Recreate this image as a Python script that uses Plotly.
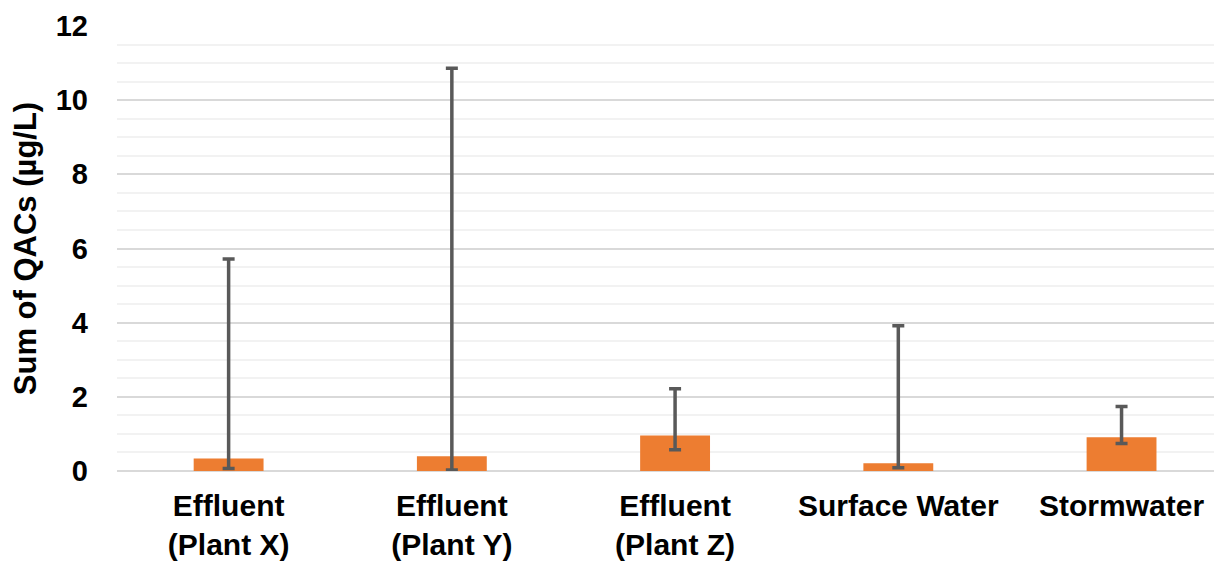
import plotly.graph_objects as go

categories = ["Effluent<br>(Plant X)", "Effluent<br>(Plant Y)", "Effluent<br>(Plant Z)", "Surface Water", "Stormwater"]
values = [0.34, 0.40, 0.96, 0.21, 0.91]
upper = [5.72, 10.86, 2.22, 3.92, 1.74]
lower = [0.07, 0.03, 0.57, 0.09, 0.74]

err_plus = [u - v for u, v in zip(upper, values)]
err_minus = [v - l for v, l in zip(values, lower)]

FONT = "Liberation Sans, Arial, sans-serif"

fig = go.Figure()
fig.add_trace(go.Bar(
    x=categories, y=values,
    marker=dict(color="#ED7D31", line=dict(width=0)),
    width=0.313,
    error_y=dict(type="data", symmetric=False, array=err_plus, arrayminus=err_minus,
                 color="#595959", thickness=3.5, width=6),
))

fig.update_layout(
    width=1214, height=553,
    margin=dict(l=109, r=0, t=18, b=90),
    plot_bgcolor="white", paper_bgcolor="white",
    font=dict(family=FONT, color="black"),
    showlegend=False,
    xaxis=dict(
        range=[-0.5, 4.45], automargin=False,
        tickfont=dict(size=30, family=FONT, weight="bold"),
        showgrid=False, showline=False, ticks="",
        ticklabelstandoff=14,
    ),
    yaxis=dict(
        range=[0, 12], dtick=2, automargin=False,
        tickfont=dict(size=29, family=FONT, weight="bold"),
        gridcolor="#D9D9D9", gridwidth=1.5,
        zeroline=True, zerolinecolor="#D9D9D9", zerolinewidth=2,
        minor=dict(dtick=0.5, showgrid=True, gridcolor="#F2F2F2", gridwidth=1.5),
        ticklabelstandoff=28,
        title=dict(text="Sum of QACs (µg/L)", standoff=16,
                   font=dict(size=31, family=FONT, weight="bold")),
    ),
)

fig.write_html("out.html")
